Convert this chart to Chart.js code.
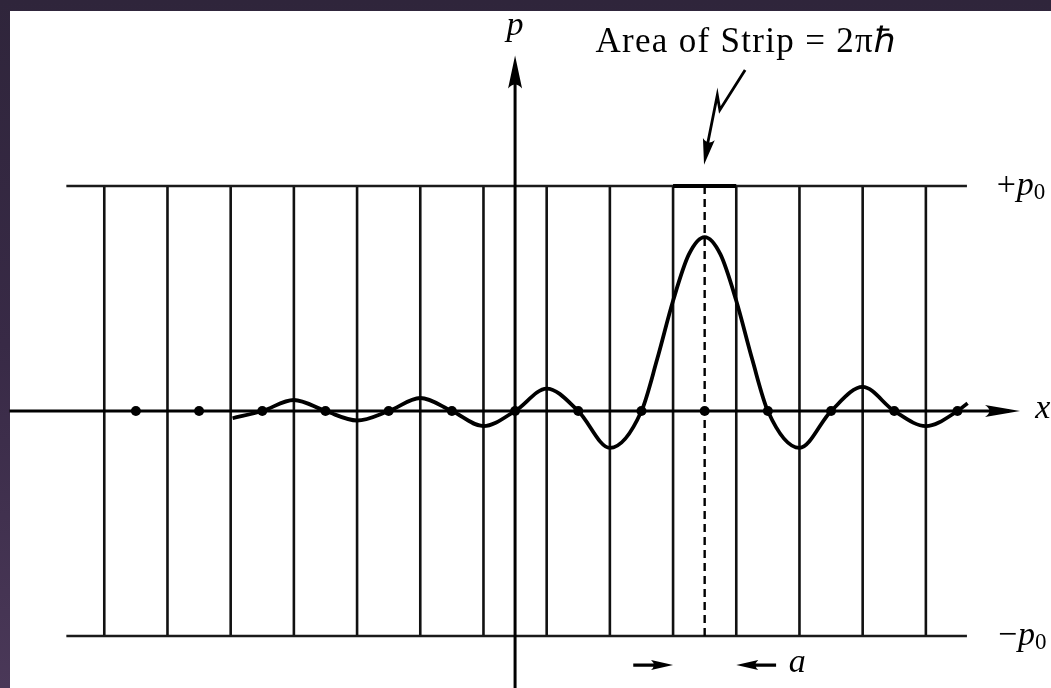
<!DOCTYPE html>
<html>
<head>
<meta charset="utf-8">
<script src="https://cdn.jsdelivr.net/npm/chart.js@4.4.0/dist/chart.umd.min.js"></script>
<style>
  html, body { margin: 0; padding: 0; }
  body { width: 1051px; height: 688px; overflow: hidden; position: relative;
         background: linear-gradient(180deg, #2f253b 0%, #382a46 50%, #4a3858 100%); }
  #paper { position: absolute; left: 10px; top: 11px; right: 0; bottom: 0; background: #fff; }
  #wrap { position: absolute; left: 0; top: 0; width: 1051px; height: 688px; }
</style>
</head>
<body>
<div id="paper"></div>
<div id="wrap"><canvas id="phase_space"></canvas></div>
<script>
// x in units of a (strip width), p in units of p0
var stripLines = [-6.5, -5.5, -4.5, -3.5, -2.5, -1.5, -0.5, 0.5, 1.5, 2.5, 3.5, 4.5, 5.5, 6.5];
var dotX = [-6, -5, -4, -3, -2, -1, 0, 1, 2, 3, 4, 5, 6, 7];
var curveX = [-4.47, -4, -3.5, -3, -2.5, -2, -1.5, -1, -0.5, 0, 0.5, 1, 1.5, 2, 2.25, 2.5, 2.75, 3,
              3.25, 3.5, 3.75, 4, 4.5, 5, 5.5, 6, 6.5, 7, 7.16];
var curveP = [-0.032, 0, 0.049, 0, -0.042, 0, 0.058, 0, -0.067, 0, 0.1, 0, -0.164, 0, 0.232, 0.49, 0.696, 0.773,
              0.696, 0.49, 0.232, 0, -0.164, 0, 0.107, 0, -0.067, 0, 0.035];
var p0 = 1;
var boundX = [-7.1, 7.15];
var strip = [2.5, 3.5];
var stripCenter = 3;

var gridPts = [];
stripLines.forEach(function(x) {
    gridPts.push({x: x, y: -p0}, {x: x, y: p0}, {x: x, y: null});
});
var boundPts = [
    {x: boundX[0], y: p0}, {x: boundX[1], y: p0}, {x: boundX[1], y: null},
    {x: boundX[0], y: -p0}, {x: boundX[1], y: -p0}
];
var curvePts = curveX.map(function(x, i) { return {x: x, y: curveP[i]}; });
var dotPts = dotX.map(function(x) { return {x: x, y: 0}; });

function arrowHead(ctx, tx, ty, ang, len, half) {
    ctx.save();
    ctx.translate(tx, ty);
    ctx.rotate(ang);
    ctx.beginPath();
    ctx.moveTo(0, 0);
    ctx.lineTo(-len, half);
    ctx.quadraticCurveTo(-len * 0.75, 0, -len, -half);
    ctx.closePath();
    ctx.fill();
    ctx.restore();
}

function drawP0(ctx, sign, x, y) {
    ctx.font = '34px "Liberation Serif"';
    ctx.fillText(sign, x, y);
    x += ctx.measureText(sign).width + 1;
    ctx.font = 'italic 34px "Liberation Serif"';
    ctx.fillText('p', x, y);
    x += ctx.measureText('p').width;
    ctx.font = '23px "Liberation Serif"';
    ctx.fillText('0', x, y + 7);
}

var extras = {
    id: 'extras',
    afterDatasetsDraw: function(chart) {
        var ctx = chart.ctx;
        var sx = chart.scales.x, sy = chart.scales.y;
        var X = function(v) { return sx.getPixelForValue(v); };
        var Y = function(v) { return sy.getPixelForValue(v); };
        ctx.save();
        ctx.fillStyle = '#000';
        ctx.strokeStyle = '#000';

        // axis arrowheads
        arrowHead(ctx, X(7.99), Y(0), 0, 35, 6);
        arrowHead(ctx, X(0), Y(1.58), -Math.PI / 2, 33, 7);

        // squiggle pointing at the strip
        ctx.lineWidth = 2.8;
        ctx.lineJoin = 'miter';
        ctx.beginPath();
        ctx.moveTo(X(3.64), Y(1.516));
        ctx.lineTo(X(3.24), Y(1.338));
        ctx.lineTo(X(3.2), Y(1.404));
        ctx.lineTo(X(3.02), Y(1.15));
        ctx.stroke();
        var ang = Math.atan2(Y(1.09) - Y(1.404), X(2.99) - X(3.2));
        arrowHead(ctx, X(2.99), Y(1.095), ang, 26, 6);

        // arrows marking width a
        ctx.lineWidth = 3.2;
        ctx.beginPath();
        ctx.moveTo(X(1.87), Y(-1.129));
        ctx.lineTo(X(2.3), Y(-1.129));
        ctx.moveTo(X(4.13), Y(-1.129));
        ctx.lineTo(X(3.7), Y(-1.129));
        ctx.stroke();
        arrowHead(ctx, X(2.5), Y(-1.129), 0, 22, 5);
        arrowHead(ctx, X(3.5), Y(-1.129), Math.PI, 22, 5);

        // labels
        ctx.textBaseline = 'middle';
        ctx.textAlign = 'left';
        ctx.font = 'italic 34px "Liberation Serif"';
        ctx.fillText('a', X(4.33), Y(-1.122));
        ctx.fillText('x', X(8.23), Y(0) - 2);
        ctx.textAlign = 'center';
        ctx.fillText('p', X(0), Y(1.71));
        ctx.textAlign = 'left';
        drawP0(ctx, '+', X(7.62), Y(p0));
        drawP0(ctx, '\u2212', X(7.64), Y(-p0));

        ctx.textAlign = 'center';
        ctx.textBaseline = 'alphabetic';
        ctx.font = '35px "Liberation Serif"';
        ctx.letterSpacing = '1.3px';
        ctx.fillText('Area of Strip = 2\u03C0\u210F', X(3.66), Y(1.596));
        ctx.restore();
    }
};

var ctx = document.getElementById('phase_space');
var chart = new Chart(ctx, {
    type: 'scatter',
    data: {
        datasets: [
            { data: dotPts, showLine: false, pointRadius: 5, pointBackgroundColor: '#000', pointBorderWidth: 0 },
            { data: curvePts, showLine: true, borderColor: '#000', borderWidth: 3.8, pointRadius: 0,
              cubicInterpolationMode: 'monotone' },
            { data: [{x: -8, y: 0}, {x: 7.6, y: 0}], showLine: true, borderColor: '#000', borderWidth: 3, pointRadius: 0 },
            { data: [{x: 0, y: -1.25}, {x: 0, y: 1.5}], showLine: true, borderColor: '#000', borderWidth: 3, pointRadius: 0 },
            { data: [{x: strip[0], y: p0}, {x: strip[1], y: p0}], showLine: true, borderColor: '#000', borderWidth: 4, pointRadius: 0 },
            { data: [{x: stripCenter, y: p0}, {x: stripCenter, y: -p0}], showLine: true, borderColor: '#000', borderWidth: 2.4,
              borderDash: [8, 5], pointRadius: 0 },
            { data: boundPts, showLine: true, spanGaps: false, borderColor: '#1a1a1a', borderWidth: 2.6, pointRadius: 0 },
            { data: gridPts, showLine: true, spanGaps: false, borderColor: '#111', borderWidth: 2.6, pointRadius: 0 }
        ]
    },
    options: {
        responsive: true,
        maintainAspectRatio: false,
        animation: false,
        layout: { padding: 0, autoPadding: false },
        plugins: { legend: { display: false }, tooltip: { enabled: false } },
        scales: {
            x: { type: 'linear', min: -8.15, max: 8.48, display: false },
            y: { type: 'linear', min: -1.231, max: 1.827, display: false }
        }
    },
    plugins: [extras]
});
</script>
</body>
</html>
